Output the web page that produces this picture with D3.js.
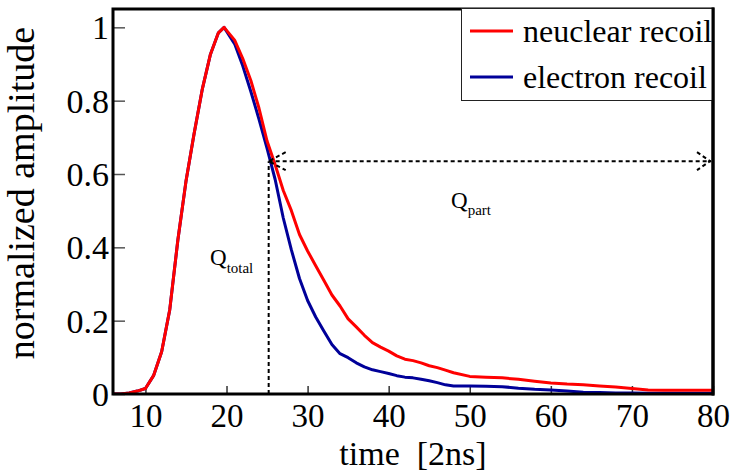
<!DOCTYPE html>
<html><head><meta charset="utf-8">
<script src="https://cdn.jsdelivr.net/npm/d3@7"></script>
</head>
<body><svg id="chart" width="734" height="471"></svg>
<script>
const time = [6,7,8,9,10,11,12,13,14,15,16,17,18,19,19.7,21,22,23,24,25,26,27,28,29,30,31,32,33,34,35,36,37,38,39,40,41,42,43,44,45,46,47,48,50,52,54,56,58,60,62,64,66,68,70,72,74,76,78,80];
const nuclear = [0,0,0.003,0.008,0.015,0.05,0.115,0.23,0.42,0.58,0.71,0.83,0.925,0.985,1.0,0.965,0.915,0.855,0.78,0.69,0.625,0.555,0.50,0.435,0.39,0.35,0.31,0.27,0.24,0.205,0.183,0.16,0.14,0.128,0.117,0.104,0.095,0.091,0.085,0.077,0.072,0.065,0.058,0.048,0.046,0.044,0.04,0.035,0.03,0.027,0.025,0.022,0.019,0.015,0.011,0.01,0.01,0.01,0.01];
const electron = [0,0,0.003,0.008,0.015,0.05,0.115,0.23,0.42,0.58,0.71,0.83,0.925,0.985,1.0,0.955,0.895,0.825,0.75,0.67,0.585,0.48,0.393,0.315,0.255,0.21,0.172,0.135,0.11,0.099,0.085,0.074,0.066,0.061,0.056,0.05,0.046,0.044,0.04,0.036,0.031,0.025,0.022,0.022,0.021,0.02,0.016,0.013,0.011,0.008,0.005,0.004,0.003,0.003,0.002,0.002,0.002,0.002,0.002];
const xTicks = [10,20,30,40,50,60,70,80];
const yTicks = [0,0.2,0.4,0.6,0.8,1];
const yTickLabels = ["0","0.2","0.4","0.6","0.8","1"];
const seriesNames = ["neuclear recoil","electron recoil"];
const seriesColors = ["#ff0000","#000099"];
const qStart = 25.2, qLevel = 0.635;

d3.select("body").style("margin","0").style("padding","0");
const FONT = "Liberation Serif";
const svg = d3.select("#chart");
const L=113, R=713, T=9, B=394;
const x = d3.scaleLinear().domain([6,80]).range([L,R]);
const y = d3.scaleLinear().domain([0,1.05]).range([B,T]);

svg.append("defs").append("clipPath").attr("id","clip")
  .append("rect").attr("x",L).attr("y",T).attr("width",R-L).attr("height",B-T);

// axes
const yAx = svg.append("g").attr("transform",`translate(${L},0)`)
  .call(d3.axisLeft(y).tickValues(yTicks).tickFormat((d,i)=>yTickLabels[i]).tickSizeInner(-12).tickSizeOuter(0).tickPadding(4));
yAx.attr("font-family",null).attr("font-size",null);
yAx.select(".domain").remove();
yAx.selectAll(".tick line").attr("stroke","#555").attr("stroke-width",1.5);
yAx.selectAll(".tick text").attr("font-size",34).attr("font-family",FONT).attr("dy","0.34em").attr("fill","#000");

const xAx = svg.append("g").attr("transform",`translate(0,${B})`)
  .call(d3.axisBottom(x).tickValues(xTicks).tickFormat(d3.format("d")).tickSizeInner(-8).tickSizeOuter(0).tickPadding(10));
xAx.attr("font-family",null).attr("font-size",null);
xAx.select(".domain").remove();
xAx.selectAll(".tick line").attr("stroke","#333").attr("stroke-width",1.5);
xAx.selectAll(".tick text").attr("font-size",33).attr("font-family",FONT).attr("fill","#000");

// lines
const line = d3.line().x((d,i)=>x(time[i])).y(d=>y(d)).curve(d3.curveLinear);
const g = svg.append("g").attr("clip-path","url(#clip)");
g.append("path").datum(electron).attr("d",line).attr("fill","none").attr("stroke",seriesColors[1]).attr("stroke-width",3).attr("stroke-linejoin","round");
g.append("path").datum(nuclear).attr("d",line).attr("fill","none").attr("stroke",seriesColors[0]).attr("stroke-width",3).attr("stroke-linejoin","round");

// annotations
const ax0 = x(qStart), ay = y(qLevel);
svg.append("line").attr("x1",ax0).attr("x2",ax0).attr("y1",B).attr("y2",ay)
  .attr("stroke","#000").attr("stroke-width",2).attr("stroke-dasharray","4,3");
svg.append("line").attr("x1",ax0).attr("x2",R-2).attr("y1",ay).attr("y2",ay)
  .attr("stroke","#000").attr("stroke-width",2).attr("stroke-dasharray","4,3");
svg.append("path").attr("d",`M${ax0+17},${ay-9}L${ax0},${ay}L${ax0+17},${ay+9}`)
  .attr("fill","none").attr("stroke","#000").attr("stroke-width",2).attr("stroke-dasharray","4,3");
svg.append("path").attr("d",`M${R-16},${ay-9}L${R-3},${ay}L${R-16},${ay+9}`)
  .attr("fill","none").attr("stroke","#000").attr("stroke-width",2).attr("stroke-dasharray","4,3");

const qt = svg.append("text").attr("x",210).attr("y",265).attr("font-size",23).attr("font-family",FONT);
qt.append("tspan").text("Q");
qt.append("tspan").attr("font-size",15).attr("dy",8).text("total");
const qp = svg.append("text").attr("x",451).attr("y",208).attr("font-size",23).attr("font-family",FONT);
qp.append("tspan").text("Q");
qp.append("tspan").attr("font-size",15).attr("dy",7).text("part");

// frame
svg.append("rect").attr("x",L).attr("y",T).attr("width",R-L).attr("height",B-T)
  .attr("fill","none").attr("stroke","#000").attr("stroke-width",3);

// legend
const lg = svg.append("g");
lg.append("rect").attr("x",461.5).attr("y",8.5).attr("width",252).attr("height",92)
  .attr("fill","#fff").attr("stroke","#222").attr("stroke-width",1);
svg.append("line").attr("x1",R).attr("x2",R).attr("y1",7.5).attr("y2",B+1.5).attr("stroke","#000").attr("stroke-width",3);
const ly = [31,77];
seriesNames.forEach((n,i)=>{
  lg.append("line").attr("x1",470).attr("x2",513).attr("y1",ly[i]).attr("y2",ly[i])
    .attr("stroke",seriesColors[i]).attr("stroke-width",3);
  lg.append("text").attr("x",523).attr("y",ly[i]+11).attr("font-size",32).attr("font-family",FONT).text(n);
});

// axis titles
svg.append("text").attr("x",(L+R)/2).attr("y",465).attr("text-anchor","middle")
  .attr("font-size",34).attr("font-family",FONT).attr("xml:space","preserve").style("white-space","pre").text("time  [2ns]");
svg.append("text").attr("transform",`translate(34,193) rotate(-90)`).attr("text-anchor","middle")
  .attr("font-size",38).attr("font-family",FONT).text("normalized amplitude");
</script></body></html>
